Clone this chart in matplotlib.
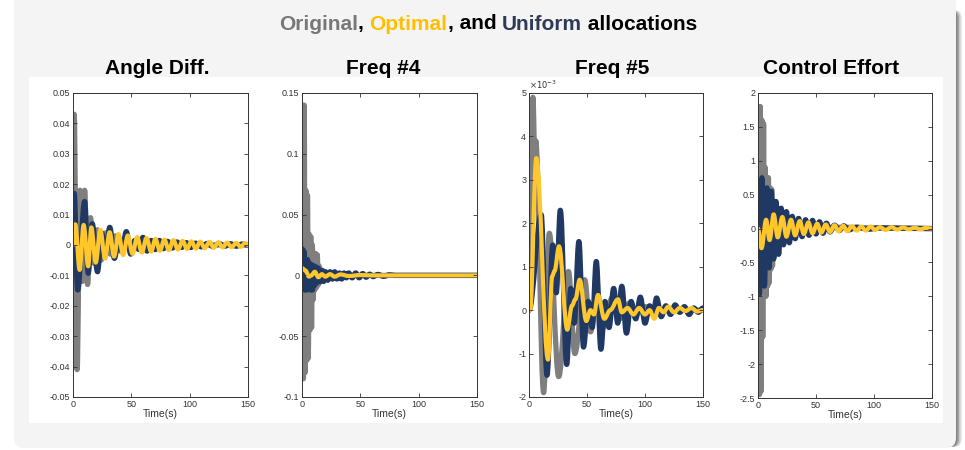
import matplotlib
matplotlib.use('Agg')
import matplotlib.pyplot as plt
from matplotlib.patches import FancyBboxPatch, Rectangle, PathPatch
from matplotlib.path import Path
from matplotlib.transforms import IdentityTransform
from matplotlib.ticker import FuncFormatter

plt.rc('font', family=['Liberation Sans', 'DejaVu Sans'])
plt.rc('axes', unicode_minus=False)

# ---- data: time (s) / value at each turning point, one set per panel ----
# Angle Diff.
t_ang_orig = [0, 1, 3.5, 6, 8, 10, 12.5, 15, 18, 21, 24, 28, 32, 36, 40, 45, 50, 60, 70, 80, 100, 150]
v_ang_orig = [0, 0.043, -0.041, 0.018, -0.012, 0.018, -0.013, 0.009, -0.006, 0.005, -0.005, 0.004,
              -0.003, 0.003, -0.002, 0.002, -0.0015, 0.001, -0.001, 0.0005, 0, 0]
t_ang_unif = [0, 1, 4, 10, 13, 16.5, 21, 24.5, 28, 31.5, 35.5, 39, 42, 45.7, 49.5, 53, 56.5, 60, 63.5,
              67, 70.5, 74, 77.5, 81, 85, 89, 93, 97, 101, 105, 110, 115, 120, 125, 130, 135, 140, 145, 150]
v_ang_unif = [0, 0.017, -0.0148, 0.0143, -0.0093, 0.007, -0.0088, 0.004, -0.003, 0.0058, -0.0044,
              0.002, -0.002, 0.0044, -0.003, 0.0015, -0.0015, 0.0025, -0.002, 0.0015, -0.0015, 0.0015,
              -0.0012, 0.0012, -0.001, 0.001, -0.0008, 0.0008, -0.0008, 0.0006, -0.0006, 0.0005,
              -0.0005, 0.0005, -0.0004, 0.0004, -0.0004, 0.0003, 0]
t_ang_opt = [0, 2, 5.7, 9.1, 13, 15.7, 19.5, 23.4, 27.5, 31.4, 35.2, 39, 43, 47, 51, 55, 59, 63, 67,
             70.6, 74.5, 78.3, 82.2, 86, 90, 94, 97.7, 101.5, 105.3, 109, 113, 117, 120.7, 124.5,
             128.3, 132, 136, 140, 143.7, 147.5, 150]
v_ang_opt = [0, 0.0068, -0.0082, 0.0066, -0.007, 0.0058, -0.0058, 0.005, -0.0045, 0.0042, -0.0038,
             0.0036, -0.0033, 0.0031, -0.0029, 0.0026, -0.0025, 0.0023, -0.0022, 0.002, -0.0019,
             0.0018, -0.0017, 0.0016, -0.0015, 0.0014, -0.0013, 0.0012, -0.0012, 0.0011, -0.001,
             0.001, -0.0009, 0.0009, -0.0008, 0.0008, -0.0007, 0.0007, -0.0006, 0.0006, 0]

# Freq #4
t_f4_orig = [0, 0.5, 1.2, 1.9, 2.6, 3.3, 4.0, 4.7, 5.4, 6.1, 6.8, 7.5, 8.2, 8.9, 9.6, 10.3, 11, 11.7,
             12.4, 13.1, 13.8, 14.5, 15.2, 16, 17, 18, 19, 20, 21.5, 23, 25, 27, 30, 35, 40, 150]
v_f4_orig = [0, 0.14, -0.085, 0.14, -0.08, 0.07, -0.07, 0.066, -0.068, 0.034, -0.045, 0.032, -0.043,
             0.025, -0.02, 0.018, -0.012, 0.018, -0.01, 0.017, -0.008, 0.008, -0.006, 0.005, -0.004,
             0.004, -0.003, 0.003, -0.002, 0.002, -0.002, 0.0015, -0.001, 0.001, 0, 0]
t_f4_unif = [0, 0.8, 1.6, 2.4, 3.2, 4, 4.8, 5.6, 6.4, 7.2, 8, 9, 10, 11, 12, 13, 14, 15.5, 17, 18.5,
             20, 22, 24, 26, 28, 30, 32, 34, 36, 38, 40, 43, 46, 49, 52, 55, 58, 61, 65, 70, 75, 80, 150]
v_f4_unif = [0.022, -0.01, 0.02, -0.012, 0.013, -0.012, 0.013, -0.011, 0.01, -0.012, 0.009, -0.012,
             0.008, -0.008, 0.007, -0.006, 0.006, -0.005, 0.004, -0.005, 0.003, -0.004, 0.003, -0.003,
             0.003, -0.003, 0.002, -0.003, 0.002, -0.002, 0.002, -0.002, 0.002, -0.002, 0.0015,
             -0.0015, 0.001, -0.001, 0.0008, -0.0008, 0.0005, 0, 0]
t_f4_opt = [0, 3, 6, 8, 11, 14, 17, 20, 24, 28, 33, 40, 50, 60, 150]
v_f4_opt = [0.006, 0.004, -0.001, 0.0, 0.003, -0.0015, 0.001, -0.001, 0.001, -0.001, 0.0008, -0.0005,
            0.0003, 0, 0]

# Freq #5 (values in units of 1e-3)
t_f5_orig = [0, 3.4, 5, 5.8, 12.6, 17.5, 25.6, 34, 39.5, 48, 53, 59, 64, 72, 78, 86, 92, 100, 110, 120, 150]
v_f5_orig = [0, 4.9, 3.5, 3.9, -1.9, 1.77, -1.53, 0.89, -1.0, 0.7, -0.5, 0.4, -0.4, 0.3, -0.2, 0.15,
             -0.1, 0.08, -0.05, 0.03, 0]
t_f5_unif = [0, 10.5, 15.5, 20.5, 23.5, 27, 32.5, 36, 39, 43, 47, 51, 54.5, 58, 62, 65.5, 69, 73,
             76.5, 80, 84, 88, 92, 96, 100, 104, 107, 110, 114, 118, 122, 126, 130, 134, 138, 142, 146, 150]
v_f5_unif = [0, 2.2, -1.5, 1.5, 0.4, 2.3, -1.25, 0.5, -0.3, 1.58, -0.85, 0.2, -0.4, 1.12, -0.9, 0.2,
             -0.4, 0.5, -0.3, 0.55, -0.53, 0.2, -0.2, 0.3, -0.3, 0.1, -0.1, 0.28, -0.15, 0.1, -0.1,
             0.12, -0.05, 0.08, -0.1, 0.05, -0.05, 0.05]
t_f5_opt = [0, 1, 6.3, 16.4, 20, 22, 25.9, 33, 37, 40, 43.7, 49.4, 53, 56, 59.5, 65, 70, 76.7, 80,
            85, 90, 95, 100, 104, 108, 112, 116, 120, 125, 130, 135, 140, 145, 150]
v_f5_opt = [0, 0, 3.5, -1.14, 0.78, 0.9, 1.47, -0.45, 0.1, 0.25, 0.7, -0.25, 0.0, -0.1, 0.35, -0.2,
            0.0, 0.25, -0.05, 0.05, -0.1, 0.05, -0.1, 0.0, -0.2, 0.05, -0.05, 0.08, -0.05, 0.05,
            -0.02, 0.05, -0.03, 0]

# Control Effort
t_ce_orig = [0, 0.6, 1.3, 2.0, 2.7, 3.4, 4.1, 4.8, 5.5, 6.2, 6.9, 7.6, 8.3, 9.0, 9.7, 10.4, 11.1, 11.8,
             12.5, 13.5, 14.5, 15.5, 16.5, 17.5, 18.5, 20, 21.5, 23, 25, 27, 30, 34, 40, 50, 150]
v_ce_orig = [0, 1.8, -2.45, 1.8, -2.4, 1.6, -1.6, 1.55, -1.0, 0.9, -1.0, 0.75, -0.85, 0.75, -0.8, 0.6,
             -0.6, 0.58, -0.55, 0.4, -0.4, 0.3, -0.35, 0.3, -0.25, 0.2, -0.2, 0.15, -0.15, 0.12, -0.1,
             0.08, -0.05, 0.02, 0]
t_ce_unif = [0, 1.1, 3.4, 5.5, 7.7, 9.5, 11.5, 13.5, 15.5, 17.8, 20, 22, 24.5, 27, 29.5, 32, 35, 38,
             41, 44, 47, 50, 53, 56, 59, 62, 66, 70, 74, 78, 85, 95, 105, 150]
v_ce_unif = [0, -0.97, 0.75, -0.85, 0.6, -0.58, 0.55, -0.45, 0.4, -0.38, 0.3, -0.24, 0.25, -0.21,
             0.18, -0.15, 0.15, -0.12, 0.13, -0.1, 0.12, -0.08, 0.1, -0.07, 0.08, -0.05, 0.05, -0.03,
             0.04, -0.02, 0.02, -0.01, 0.01, 0]
t_ce_opt = [0, 3, 7, 10, 13.5, 17, 21, 24.5, 28.5, 32, 36, 39.5, 43.5, 47, 51, 54.5, 58.5, 62, 66,
            69.5, 73.5, 77, 81, 85, 89, 93, 97, 101, 105, 110, 115, 120, 125, 130, 135, 140, 145, 150]
v_ce_opt = [0, -0.29, 0.13, -0.17, 0.21, -0.13, 0.17, -0.12, 0.13, -0.1, 0.11, -0.08, 0.09, -0.07,
            0.07, -0.06, 0.06, -0.05, 0.05, -0.04, 0.04, -0.04, 0.035, -0.03, 0.03, -0.03, 0.03,
            -0.02, 0.02, -0.02, 0.02, -0.015, 0.015, -0.01, 0.01, -0.01, 0.01, 0]

panel_titles = ['Angle Diff.', 'Freq #4', 'Freq #5', 'Control Effort']
x_ticks = [0, 50, 100, 150]

c_orig = '#7f7f7f'
c_opt = '#ffc72c'
c_unif = '#1f3864'

W, H = 965, 450
fig = plt.figure(figsize=(W / 100, H / 100), dpi=100)
fig.patch.set_facecolor('white')


def fx(px):
    return px / W


def fy(py):
    return 1 - py / H


def wave(ax, t, v, color, lw):
    # smooth curve through the turning points (flat tangent at each one)
    verts = [(t[0], v[0])]
    codes = [Path.MOVETO]
    for k in range(1, len(t)):
        d = t[k] - t[k - 1]
        verts += [(t[k - 1] + 0.36 * d, v[k - 1]), (t[k] - 0.36 * d, v[k]), (t[k], v[k])]
        codes += [Path.CURVE4] * 3
    ax.add_patch(PathPatch(Path(verts, codes), fill=False, ec=color, lw=lw,
                           joinstyle='round', capstyle='round'))


# slide frame: shadow on the right, light grey box, white plot area (drawn below the axes)
pix = IdentityTransform()
for off, a in [(6, 0.12), (4.5, 0.2), (3, 0.3), (1.5, 0.4)]:
    fig.add_artist(FancyBboxPatch((20, 3), 936 + off, 437, boxstyle='round,pad=0,rounding_size=8',
                                  transform=pix, fc='#505050', ec='none', alpha=a, zorder=-5))
fig.add_artist(FancyBboxPatch((14, 2), 942, H + 40, boxstyle='round,pad=0,rounding_size=10',
                              transform=pix, fc='#f4f4f4', ec='none', zorder=-4))
fig.add_artist(Rectangle((29, H - 423), 943 - 29, 423 - 77, transform=pix,
                         fc='white', ec='none', zorder=-3))

# axes boxes in pixel coordinates (left, right, top, bottom)
boxes = [(73, 248, 93, 397), (302, 477, 93, 397), (529, 703, 93, 397), (758, 932, 93, 398)]
title_x = [157, 383, 612, 831]

series = [
    (t_ang_orig, v_ang_orig, t_ang_unif, v_ang_unif, t_ang_opt, v_ang_opt),
    (t_f4_orig, v_f4_orig, t_f4_unif, v_f4_unif, t_f4_opt, v_f4_opt),
    (t_f5_orig, [v * 1e-3 for v in v_f5_orig],
     t_f5_unif, [v * 1e-3 for v in v_f5_unif],
     t_f5_opt, [v * 1e-3 for v in v_f5_opt]),
    (t_ce_orig, v_ce_orig, t_ce_unif, v_ce_unif, t_ce_opt, v_ce_opt),
]
ylims = [(-0.05, 0.05), (-0.1, 0.15), (-2e-3, 5e-3), (-2.5, 2)]
ytick_steps = [0.01, 0.05, 1e-3, 0.5]

for i, (l, r, t, b) in enumerate(boxes):
    ax = fig.add_axes([fx(l), fy(b), (r - l) / W, (b - t) / H])
    to, vo, tu, vu, tp, vp = series[i]
    wave(ax, to, vo, c_orig, 3.8)
    wave(ax, tu, vu, c_unif, 3.8)
    wave(ax, tp, vp, c_opt, 3.0)
    ax.set_xlim(0, 150)
    ax.set_ylim(*ylims[i])
    ax.set_xticks(x_ticks)
    lo, hi = ylims[i]
    n = int(round((hi - lo) / ytick_steps[i]))
    ax.set_yticks([lo + k * ytick_steps[i] for k in range(n + 1)])
    if i == 2:
        ax.yaxis.set_major_formatter(FuncFormatter(lambda v, p: '%g' % round(v * 1e3, 6)))
        ax.text(0.0, 1.005, r'$\times10^{-3}$', transform=ax.transAxes, fontsize=6,
                color='#333333', ha='left', va='bottom')
    else:
        ax.yaxis.set_major_formatter(FuncFormatter(lambda v, p: '%g' % round(v, 6)))
    ax.tick_params(direction='in', top=True, right=True, length=3, width=0.6,
                   labelsize=6.5, labelcolor='#333333', color='#333333', pad=2)
    for s in ax.spines.values():
        s.set_linewidth(0.7)
        s.set_color('#333333')
    ax.set_xlabel('Time(s)', fontsize=7.5, color='#333333', labelpad=0)
    fig.text(fx(title_x[i]), fy(68), panel_titles[i], ha='center', va='center',
             fontsize=15, fontweight='bold', color='black')

# multi-coloured heading
parts = [('Original', '#777777'), (', ', 'black'), ('Optimal', '#ffbf00'), (', and ', 'black'),
         ('Uniform', '#2d3b58'), (' allocations', 'black')]
fig.canvas.draw()
rend = fig.canvas.get_renderer()
texts = []
for s, c in parts:
    texts.append(fig.text(0, fy(24), s, ha='left', va='center', fontsize=15,
                          fontweight='bold', color=c))
widths = [tx.get_window_extent(rend).width for tx in texts]
x0 = 488 - sum(widths) / 2
for tx, w in zip(texts, widths):
    tx.set_x(fx(x0))
    x0 += w

fig.savefig('out.png', dpi=100)
